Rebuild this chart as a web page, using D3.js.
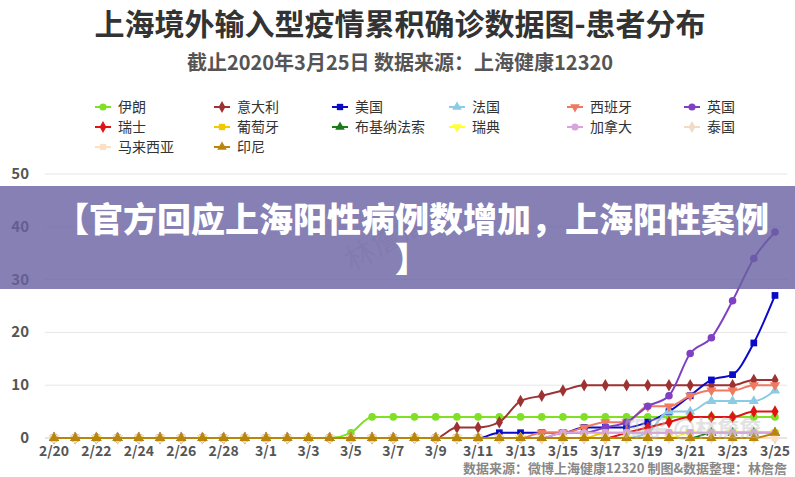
<!DOCTYPE html>
<html><head><meta charset="utf-8">
<script src="https://cdn.jsdelivr.net/npm/d3@7"></script>
<style>
html,body{margin:0;padding:0;background:#fff;}
svg{display:block;font-family:"Noto Sans CJK SC","Noto Sans",sans-serif;}
</style></head>
<body>
<svg id="c" width="795" height="477"></svg>
<script>
const titleText = "上海境外输入型疫情累积确诊数据图-患者分布";
const subtitleText = "截止2020年3月25日 数据来源：上海健康12320";
const footerText = "数据来源：微博上海健康12320 制图&数据整理：林詹詹";
const bannerLines = ["【官方回应上海阳性病例数增加，上海阳性案例", "】"];
const dates = ["2/20","2/21","2/22","2/23","2/24","2/25","2/26","2/27","2/28","2/29",
  "3/1","3/2","3/3","3/4","3/5","3/6","3/7","3/8","3/9","3/10","3/11","3/12","3/13","3/14",
  "3/15","3/16","3/17","3/18","3/19","3/20","3/21","3/22","3/23","3/24","3/25"];
const tickLabels = ["2/20","2/22","2/24","2/26","2/28","3/1","3/3","3/5","3/7","3/9","3/11","3/13","3/15","3/17","3/19","3/21","3/23","3/25"];
const yTicks = [0,10,20,30,40,50];
const names = ["伊朗","意大利","美国","法国","西班牙","英国","瑞士","葡萄牙","布基纳法索","瑞典","加拿大","泰国","马来西亚","印尼"];
const colors = ["#7fe024","#9e3232","#0a0ac8","#8ccbe4","#ee7a62","#8040c4","#e01414","#f2c800","#1a7a1a","#ffff33","#d8a4dc","#f0dcc4","#fde0c4","#b8860b"];
const symbols = ["circle","diamond","square","triangle","triangleDown","circle","diamond","square","triangle","triangleDown","circle","diamond","square","triangle"];
// values per date index 0..34 (2/20..3/25)
const iran      = [0,0,0,0,0,0,0,0,0,0, 0,0,0,0,1,4,4,4,4,4, 4,4,4,4,4,4,4,4,4,4, 4,4,4,4,4];
const italy     = [0,0,0,0,0,0,0,0,0,0, 0,0,0,0,0,0,0,0,0,2, 2,3,7,8,9,10,10,10,10,10, 10,10,10,11,11];
const usa       = [0,0,0,0,0,0,0,0,0,0, 0,0,0,0,0,0,0,0,0,0, 0,1,1,1,1,2,2,2,3,5, 8,11,12,18,27];
const france    = [0,0,0,0,0,0,0,0,0,0, 0,0,0,0,0,0,0,0,0,0, 0,0,0,0,0,0,0,0,1,5, 5,7,7,7,9];
const spain     = [0,0,0,0,0,0,0,0,0,0, 0,0,0,0,0,0,0,0,0,0, 0,0,0,1,1,2,3,3,6,6, 8,9,9,10,10];
const uk        = [0,0,0,0,0,0,0,0,0,0, 0,0,0,0,0,0,0,0,0,0, 0,0,0,0,1,1,2,3,6,8, 16,19,26,34,39];
const swiss     = [0,0,0,0,0,0,0,0,0,0, 0,0,0,0,0,0,0,0,0,0, 0,0,0,0,0,0,0,1,2,3, 4,4,4,5,5];
const portugal  = [0,0,0,0,0,0,0,0,0,0, 0,0,0,0,0,0,0,0,0,0, 0,0,0,0,0,0,1,1,1,1, 1,1,1,1,1];
const burkina   = [0,0,0,0,0,0,0,0,0,0, 0,0,0,0,0,0,0,0,0,0, 0,0,0,0,0,0,0,0,0,0, 0,1,1,1,1];
const sweden    = [0,0,0,0,0,0,0,0,0,0, 0,0,0,0,0,0,0,0,0,0, 0,0,0,0,0,0,0,0,0,0, 1,1,1,1,1];
const canada    = [0,0,0,0,0,0,0,0,0,0, 0,0,0,0,0,0,0,0,0,0, 0,0,0,0,1,1,1,1,1,1, 1,1,1,1,1];
const thailand  = [0,0,0,0,0,0,0,0,0,0, 0,0,0,0,0,0,0,0,0,0, 0,0,0,0,0,0,0,0,0,0, 0,0,0,0,0];
const malaysia  = [0,0,0,0,0,0,0,0,0,0, 0,0,0,0,0,0,0,0,0,0, 0,0,0,0,0,0,0,0,0,0, 0,0,0,0,0];
const indonesia = [0,0,0,0,0,0,0,0,0,0, 0,0,0,0,0,0,0,0,0,0, 0,0,0,0,0,0,0,0,0,0, 0,0,0,0,1];
const seriesValues = [iran,italy,usa,france,spain,uk,swiss,portugal,burkina,sweden,canada,thailand,malaysia,indonesia];

const svg = d3.select("#c");
const x = d3.scalePoint().domain(dates).range([54, 775]);
const y = d3.scaleLinear().domain([0, 50]).range([438, 174]);
const symMap = {circle:d3.symbolCircle, diamond:d3.symbolDiamond, square:d3.symbolSquare, triangle:d3.symbolTriangle, triangleDown:d3.symbolTriangle};
function sym(name, size){
  return d3.symbol().type(symMap[name]).size(size)();
}

// title
svg.append("text").attr("x", 400).attr("y", 35).attr("text-anchor","middle")
  .attr("font-size", 30).attr("font-weight", 700).attr("fill", "#333").text(titleText);
svg.append("text").attr("x", 400).attr("y", 70).attr("text-anchor","middle")
  .attr("font-size", 20).attr("font-weight", 700).attr("fill", "#555").text(subtitleText);

// legend
const legCols = [103, 222, 340, 457, 575, 692];
const legRows = [107, 127, 147];
names.forEach((n, i) => {
  const cx = legCols[i % 6], cy = legRows[Math.floor(i / 6)];
  const g = svg.append("g").attr("transform", `translate(${cx},${cy})`);
  g.append("line").attr("x1", -8).attr("x2", 8).attr("stroke", colors[i]).attr("stroke-width", 2);
  g.append("path").attr("d", sym(symbols[i], 40)).attr("fill", colors[i])
    .attr("transform", symbols[i] === "triangleDown" ? "rotate(180)" : null);
  svg.append("text").attr("x", cx + 15).attr("y", cy + 5).attr("font-size", 14)
    .attr("fill", "#333").text(n);
});

// grid
const grid = svg.append("g");
yTicks.forEach(t => {
  grid.append("line").attr("x1", 45).attr("x2", 787).attr("y1", y(t)).attr("y2", y(t))
    .attr("stroke", t === 0 ? "#ccc" : "#e6e6e6").attr("stroke-width", 1);
  svg.append("text").attr("x", 29).attr("y", y(t) + 5).attr("text-anchor", "end")
    .attr("font-size", 15).attr("font-weight", 700).attr("fill", "#555").text(t);
});
// x ticks
tickLabels.forEach(d => {
  grid.append("line").attr("x1", x(d)).attr("x2", x(d)).attr("y1", 438).attr("y2", 444)
    .attr("stroke", "#ccc");
  svg.append("text").attr("x", x(d)).attr("y", 456).attr("text-anchor", "middle")
    .attr("font-size", 14).attr("font-weight", 700).attr("fill", "#555").text(d);
});

// series
const line = d3.line().x((d, i) => x(dates[i])).y(d => y(d)).curve(d3.curveMonotoneX);
seriesValues.forEach((vals, si) => {
  const g = svg.append("g");
  g.append("path").attr("d", line(vals)).attr("fill", "none").attr("stroke", colors[si]).attr("stroke-width", 2);
  vals.forEach((v, i) => {
    g.append("path").attr("d", sym(symbols[si], 45)).attr("fill", colors[si])
      .attr("transform", `translate(${x(dates[i])},${y(v)})` + (symbols[si] === "triangleDown" ? " rotate(180)" : ""));
  });
});

// watermarks
svg.append("text").attr("x", 624).attr("y", 436).attr("font-size", 22).attr("font-weight", 700)
  .attr("fill", "rgba(190,190,190,0.45)").text("知乎 @林詹詹");
svg.append("text").attr("transform", "translate(352,272) rotate(-30)").attr("font-size", 30)
  .attr("fill", "rgba(160,160,160,0.25)").text("林詹詹");

// footer
svg.append("text").attr("x", 787).attr("y", 473).attr("text-anchor", "end")
  .attr("font-size", 13).attr("font-weight", 700).attr("fill", "#888").text(footerText);

// banner overlay
svg.append("rect").attr("x", 0).attr("y", 186).attr("width", 795).attr("height", 103)
  .attr("fill", "rgb(104,96,161)").attr("fill-opacity", 0.8);
bannerLines.forEach((t, i) => {
  svg.append("text").attr("x", 412).attr("y", 232 + i * 40).attr("text-anchor", "middle")
    .attr("font-size", 34).attr("font-weight", 900).attr("fill", "#fff").text(t);
});
</script>
</body></html>
